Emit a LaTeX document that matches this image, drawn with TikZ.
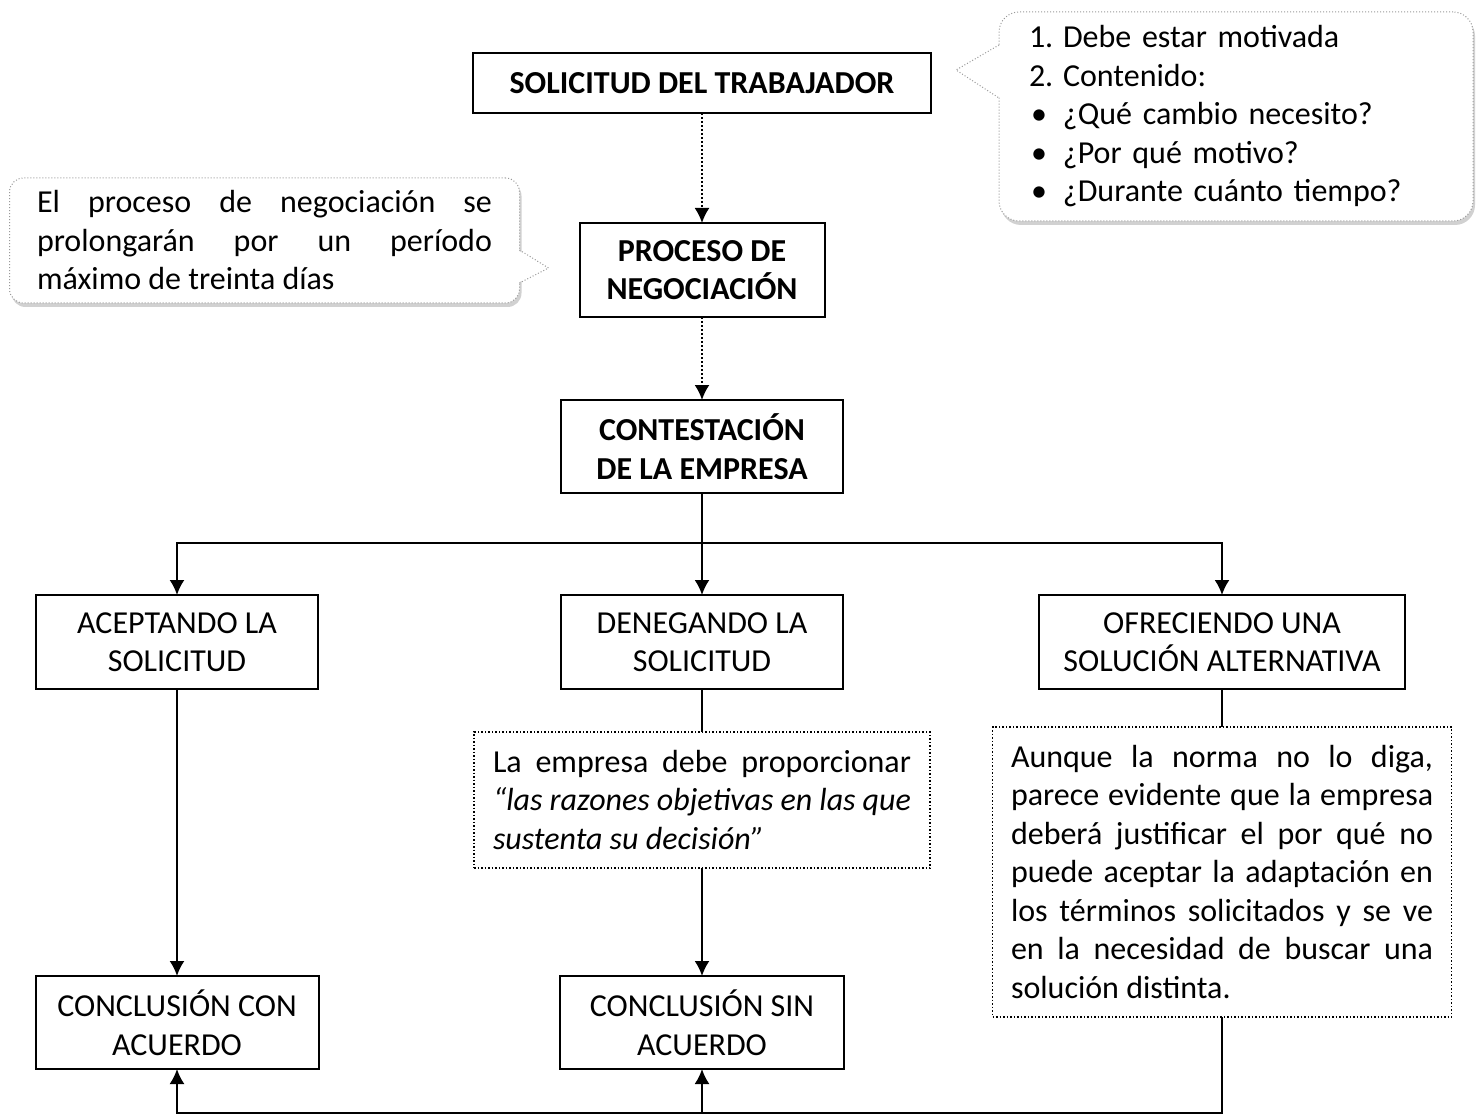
\documentclass[tikz,border=0pt]{standalone}
\usepackage{fontspec}
\setmainfont{Carlito}
\usetikzlibrary{positioning, arrows.meta, shadows}

\hyphenpenalty = 10000
\exhyphenpenalty = 10000

\newcommand{\vineta}{\makebox[17pt][l]{\hspace{1pt}\textbullet}}

\tikzset{
    texto/.style = {font = \fontsize{16pt}{19.25pt}\selectfont},
    caja/.style = {texto, draw = black, rectangle, line width = 1pt, align = center, inner sep = 0pt, outer sep = 0pt},
    cajanegrita/.style = {caja, font = \fontsize{16pt}{19.25pt}\selectfont\bfseries},
    nota/.style = {texto, draw = black, rectangle, densely dotted, line width = 0.75pt, align = justify, inner ysep = 0pt, outer sep = 0pt},
    globo/.style = {texto, draw = gray!80, densely dotted, line width = 0.5pt, fill = white, rounded corners = 10pt, inner ysep = 0pt, outer sep = 0pt,
        drop shadow = {shadow xshift = 1pt, shadow yshift = -2pt, opacity = 0.3, fill = black!60}},
    pico/.style = {draw = gray!80, densely dotted, line width = 0.5pt},
    linea/.style = {line width = 1pt},
    flecha/.style = {line width = 1pt, -{Latex[length = 7.5pt, width = 7.5pt]}},
    puntos/.style = {flecha, densely dotted}
}

\begin{document}
\begin{tikzpicture}
        \useasboundingbox (0pt, 0pt) rectangle (738pt, -558.5pt);

        \node [cajanegrita, minimum width = 229pt, minimum height = 30pt] (solicitud) at (351pt, -41.5pt) {SOLICITUD DEL TRABAJADOR};
        \node [cajanegrita, minimum width = 122.5pt, minimum height = 47pt, below = 55pt of solicitud] (proceso) {PROCESO DE\\NEGOCIACIÓN};
        \node [cajanegrita, minimum width = 141pt, minimum height = 46.5pt, below = 41.5pt of proceso] (contestacion) {CONTESTACIÓN\\DE LA EMPRESA};

        \node [caja, minimum width = 141pt, minimum height = 47pt, below = 51pt of contestacion] (denegando) {DENEGANDO LA\\SOLICITUD};
        \node [caja, minimum width = 141pt, minimum height = 47pt, left = 121.5pt of denegando] (aceptando) {ACEPTANDO LA\\SOLICITUD};
        \node [caja, minimum width = 183pt, minimum height = 47pt, right = 98pt of denegando] (ofreciendo) {OFRECIENDO UNA\\SOLUCIÓN ALTERNATIVA};

        \node [nota, text width = 209pt, inner xsep = 9.5pt, minimum height = 68pt, below = 21.5pt of denegando] (razones) {La empresa debe proporcionar\linebreak \textit{“las razones objetivas en las que\linebreak sustenta su decisión”}};
        \node [nota, text width = 211pt, inner xsep = 9.25pt, minimum height = 145pt, below = 19pt of ofreciendo] (aunque) {Aunque la norma no lo diga,\linebreak parece evidente que la empresa\linebreak deberá justificar el por qué no\linebreak puede aceptar la adaptación en\linebreak los términos solicitados y se ve\linebreak en la necesidad de buscar una\linebreak solución distinta.};

        \node [caja, minimum width = 141.5pt, minimum height = 46.5pt, below = 143.5pt of aceptando] (conclcon) {CONCLUSIÓN CON\\ACUERDO};
        \node [caja, minimum width = 142pt, minimum height = 46.5pt, below = 54pt of razones] (conclsin) {CONCLUSIÓN SIN\\ACUERDO};

        \node [globo, text width = 207pt, inner xsep = 15pt, minimum height = 104.5pt, align = left, right = 34pt of solicitud, yshift = -16.75pt] (requisitos) {\makebox[17pt][l]{1.}Debe estar motivada\\\makebox[17pt][l]{2.}Contenido:\\\vineta¿Qué cambio necesito?\\\vineta¿Por qué motivo?\\\vineta¿Durante cuánto tiempo?};
        \node [globo, rounded corners = 7pt, text width = 227.5pt, inner xsep = 13.75pt, minimum height = 62.5pt, align = justify, left = 30pt of proceso, yshift = 14.75pt] (plazo) {El proceso de negociación se\linebreak prolongarán por un período\linebreak máximo de treinta días};

        \fill [white] ([shift = {(1pt, -16.5pt)}] requisitos.north west) -- ([shift = {(-21.5pt, -29pt)}] requisitos.north west) -- ([shift = {(1pt, -43pt)}] requisitos.north west) -- cycle;
        \draw [pico] ([yshift = -16.5pt] requisitos.north west) -- ([shift = {(-21.5pt, -29pt)}] requisitos.north west) -- ([yshift = -43pt] requisitos.north west);
        \fill [white] ([shift = {(-1pt, -36pt)}] plazo.north east) -- ([shift = {(14.5pt, -45pt)}] plazo.north east) -- ([shift = {(-1pt, -52.5pt)}] plazo.north east) -- cycle;
        \draw [pico] ([yshift = -36pt] plazo.north east) -- ([shift = {(14.5pt, -45pt)}] plazo.north east) -- ([yshift = -52.5pt] plazo.north east);

        \coordinate [below = 25pt of contestacion] (split);
        \coordinate [below = 48pt of aunque] (merge);

        \draw [puntos] (solicitud) -- (proceso);
        \draw [puntos] (proceso) -- (contestacion);
        \draw [linea] (contestacion) -- (split);
        \draw [flecha] (split) -| (aceptando);
        \draw [flecha] (split) -- (denegando);
        \draw [flecha] (split) -| (ofreciendo);
        \draw [flecha] (aceptando) -- (conclcon);
        \draw [linea] (denegando) -- (razones);
        \draw [flecha] (razones) -- (conclsin);
        \draw [linea] (ofreciendo) -- (aunque);
        \draw [flecha] (aunque) -- (merge) -| (conclcon);
        \draw [flecha] (merge) -| (conclsin);
\end{tikzpicture}
\end{document}
